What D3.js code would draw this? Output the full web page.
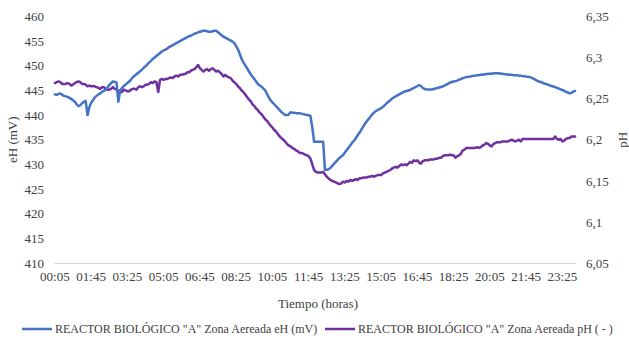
<!DOCTYPE html>
<html>
<head>
<meta charset="utf-8">
<script src="https://cdn.jsdelivr.net/npm/d3@7"></script>
<style>
  html, body { margin: 0; padding: 0; background: #fff; }
  svg { display: block; }
  text { font-family: "Liberation Serif", "Times New Roman", serif; fill: #404040; }
</style>
</head>
<body>
<svg id="chart" width="629" height="338"></svg>
<script>
// Sampling times: every 5 minutes, 00:05 through 24:00
const times = d3.range(1, 289).map(k => {
  const m = k * 5;
  return String(Math.floor(m / 60)).padStart(2, "0") + ":" + String(m % 60).padStart(2, "0");
});

// Oxidation-reduction potential, aerated zone (mV), one row per hour
const ehValues = [
  444.2, 444.1, 444.3, 444.4, 444.1, 443.9, 443.8, 443.7, 443.5, 443.3, 443.0, 442.7,
  442.2, 441.8, 442.0, 442.4, 442.7, 442.9, 440.0, 441.6, 442.5, 443.0, 443.6, 443.9,
  444.2, 444.4, 444.7, 444.9, 445.2, 445.6, 446.1, 446.5, 446.8, 446.7, 446.6, 442.7,
  445.0, 445.5, 445.9, 446.2, 446.5, 446.8, 447.2, 447.7, 448.0, 448.3, 448.6, 448.9,
  449.2, 449.6, 449.9, 450.3, 450.7, 451.0, 451.4, 451.7, 452.0, 452.3, 452.6, 452.9,
  453.1, 453.3, 453.5, 453.8, 454.0, 454.2, 454.4, 454.6, 454.8, 455.0, 455.2, 455.4,
  455.6, 455.8, 456.0, 456.1, 456.3, 456.5, 456.6, 456.8, 456.9, 457.0, 457.1, 457.1,
  457.0, 456.9, 456.9, 457.0, 457.1, 457.1, 456.8, 456.5, 456.2, 455.9, 455.7, 455.5,
  455.3, 455.1, 454.9, 454.6, 454.0, 453.3, 452.4, 451.4, 450.7, 450.1, 449.5, 448.9,
  448.3, 447.8, 447.3, 446.8, 446.3, 446.0, 445.8, 445.4, 445.0, 444.3, 443.6, 443.0,
  442.6, 442.2, 441.8, 441.4, 441.0, 440.6, 440.3, 440.0, 440.0, 440.1, 440.6, 440.5,
  440.5, 440.4, 440.4, 440.4, 440.3, 440.2, 440.1, 440.0, 440.0, 439.8, 437.5, 434.6,
  434.6, 434.6, 434.6, 434.6, 434.6, 428.9, 428.9, 429.0, 429.3, 429.7, 430.1, 430.5,
  430.9, 431.3, 431.6, 431.9, 432.4, 432.9, 433.4, 433.9, 434.4, 434.8, 435.3, 435.9,
  436.4, 437.0, 437.6, 438.2, 438.7, 439.2, 439.6, 440.1, 440.5, 440.8, 441.0, 441.2,
  441.4, 441.7, 442.0, 442.4, 442.7, 443.0, 443.3, 443.6, 443.8, 444.0, 444.2, 444.4,
  444.6, 444.8, 444.9, 445.0, 445.1, 445.3, 445.5, 445.7, 445.9, 446.1, 445.9, 445.5,
  445.3, 445.2, 445.2, 445.2, 445.2, 445.3, 445.4, 445.5, 445.6, 445.7, 445.8, 446.0,
  446.2, 446.4, 446.6, 446.7, 446.8, 446.9, 447.0, 447.2, 447.3, 447.5, 447.6, 447.7,
  447.8, 447.8, 447.9, 448.0, 448.0, 448.1, 448.1, 448.2, 448.2, 448.3, 448.3, 448.4,
  448.4, 448.4, 448.5, 448.5, 448.5, 448.5, 448.4, 448.4, 448.3, 448.3, 448.2, 448.2,
  448.2, 448.1, 448.1, 448.1, 448.0, 448.0, 447.9, 447.9, 447.8, 447.8, 447.7, 447.6,
  447.4, 447.2, 447.0, 446.8, 446.7, 446.6, 446.4, 446.3, 446.2, 446.0, 445.9, 445.8,
  445.7, 445.5, 445.4, 445.2, 445.1, 444.9, 444.7, 444.6, 444.4, 444.5, 444.8, 444.9
];

// pH, aerated zone, one row per hour
const phValues = [
  6.269, 6.270, 6.271, 6.270, 6.268, 6.268, 6.268, 6.269, 6.268, 6.266, 6.267, 6.269,
  6.270, 6.271, 6.270, 6.268, 6.268, 6.267, 6.265, 6.266, 6.265, 6.265, 6.265, 6.264,
  6.263, 6.262, 6.264, 6.264, 6.262, 6.261, 6.261, 6.262, 6.264, 6.262, 6.261, 6.259,
  6.260, 6.258, 6.261, 6.260, 6.259, 6.259, 6.261, 6.262, 6.262, 6.261, 6.264, 6.265,
  6.264, 6.265, 6.267, 6.267, 6.268, 6.270, 6.269, 6.271, 6.270, 6.258, 6.273, 6.274,
  6.273, 6.274, 6.274, 6.275, 6.276, 6.275, 6.277, 6.278, 6.277, 6.279, 6.279, 6.280,
  6.280, 6.282, 6.282, 6.284, 6.285, 6.286, 6.288, 6.291, 6.287, 6.285, 6.283, 6.285,
  6.286, 6.284, 6.286, 6.287, 6.285, 6.283, 6.284, 6.282, 6.280, 6.277, 6.279, 6.277,
  6.276, 6.275, 6.272, 6.270, 6.268, 6.265, 6.263, 6.260, 6.258, 6.255, 6.252, 6.249,
  6.247, 6.243, 6.241, 6.238, 6.236, 6.233, 6.231, 6.228, 6.225, 6.223, 6.220, 6.217,
  6.215, 6.212, 6.210, 6.207, 6.204, 6.202, 6.200, 6.198, 6.195, 6.193, 6.192, 6.190,
  6.189, 6.187, 6.186, 6.184, 6.184, 6.183, 6.182, 6.181, 6.180, 6.177, 6.170, 6.163,
  6.161, 6.160, 6.160, 6.160, 6.161, 6.158, 6.155, 6.153, 6.151, 6.150, 6.149, 6.148,
  6.147, 6.146, 6.147, 6.149, 6.148, 6.150, 6.149, 6.151, 6.150, 6.151, 6.152, 6.151,
  6.153, 6.153, 6.154, 6.154, 6.154, 6.155, 6.155, 6.156, 6.155, 6.156, 6.157, 6.157,
  6.157, 6.159, 6.160, 6.161, 6.162, 6.163, 6.165, 6.166, 6.167, 6.166, 6.168, 6.170,
  6.169, 6.170, 6.169, 6.171, 6.173, 6.172, 6.175, 6.174, 6.175, 6.172, 6.171, 6.174,
  6.175, 6.175, 6.175, 6.176, 6.176, 6.176, 6.177, 6.177, 6.178, 6.178, 6.180, 6.181,
  6.181, 6.181, 6.182, 6.181, 6.181, 6.178, 6.180, 6.181, 6.183, 6.187, 6.188, 6.190,
  6.190, 6.190, 6.190, 6.190, 6.190, 6.191, 6.190, 6.191, 6.193, 6.194, 6.196, 6.195,
  6.193, 6.192, 6.195, 6.196, 6.197, 6.197, 6.197, 6.198, 6.198, 6.198, 6.198, 6.199,
  6.200, 6.199, 6.198, 6.199, 6.200, 6.198, 6.201, 6.201, 6.201, 6.201, 6.201, 6.201,
  6.201, 6.201, 6.201, 6.201, 6.201, 6.201, 6.201, 6.201, 6.201, 6.201, 6.201, 6.201,
  6.204, 6.201, 6.200, 6.201, 6.198, 6.199, 6.201, 6.202, 6.202, 6.204, 6.204, 6.204
];

// Axis ticks
const ehTicks = [410, 415, 420, 425, 430, 435, 440, 445, 450, 455, 460];
const phTicks = [6.05, 6.1, 6.15, 6.2, 6.25, 6.3, 6.35];
const xLabelTimes = ["00:05", "01:45", "03:25", "05:05", "06:45", "08:25", "10:05",
  "11:45", "13:25", "15:05", "16:45", "18:25", "20:05", "21:45", "23:25"];

const seriesNames = [
  'REACTOR BIOLÓGICO "A" Zona Aereada eH (mV)',
  'REACTOR BIOLÓGICO "A" Zona Aereada pH ( - )'
];
const colors = ["#4472C4", "#7030A0"];

const svg = d3.select("#chart");
const plot = { left: 54, right: 576, top: 16.5, bottom: 263 };

const x = d3.scaleBand().domain(times).range([plot.left, plot.right]);
const yL = d3.scaleLinear().domain([410, 460]).range([plot.bottom, plot.top]);
const yR = d3.scaleLinear().domain([6.05, 6.35]).range([plot.bottom, plot.top]);
const cx = t => x(t) + x.bandwidth() / 2;

const fmtComma = v => String(+v.toFixed(2)).replace(".", ",");

// Horizontal category axis
const xAxis = svg.append("g")
  .attr("transform", `translate(0,${plot.bottom})`)
  .call(d3.axisBottom(x).tickValues(xLabelTimes).tickSize(0).tickPadding(9));
xAxis.select(".domain").attr("stroke", "#d9d9d9").attr("stroke-width", 1);
xAxis.selectAll("text").attr("font-size", 13).attr("fill", "#404040")
  .style("font-family", '"Liberation Serif", serif');

// Left axis (eH)
const yAxisL = svg.append("g")
  .attr("transform", `translate(${plot.left},0)`)
  .call(d3.axisLeft(yL).tickValues(ehTicks).tickSize(0).tickPadding(10));
yAxisL.select(".domain").remove();
yAxisL.selectAll("text").attr("font-size", 13).attr("fill", "#404040")
  .style("font-family", '"Liberation Serif", serif');

// Right axis (pH)
const yAxisR = svg.append("g")
  .attr("transform", `translate(${plot.right},0)`)
  .call(d3.axisRight(yR).tickValues(phTicks).tickSize(0).tickPadding(10).tickFormat(fmtComma));
yAxisR.select(".domain").remove();
yAxisR.selectAll("text").attr("font-size", 13).attr("fill", "#404040")
  .style("font-family", '"Liberation Serif", serif');

// Series lines
const lineL = d3.line().x((d, i) => cx(times[i])).y(d => yL(d));
const lineR = d3.line().x((d, i) => cx(times[i])).y(d => yR(d));

svg.append("path").datum(phValues)
  .attr("fill", "none").attr("stroke", colors[1]).attr("stroke-width", 2.5)
  .attr("stroke-linejoin", "round").attr("stroke-linecap", "round")
  .attr("d", lineR);

svg.append("path").datum(ehValues)
  .attr("fill", "none").attr("stroke", colors[0]).attr("stroke-width", 2.5)
  .attr("stroke-linejoin", "round").attr("stroke-linecap", "round")
  .attr("d", lineL);

// Axis titles
svg.append("text")
  .attr("transform", `translate(17,${(plot.top + plot.bottom) / 2}) rotate(-90)`)
  .attr("text-anchor", "middle").attr("font-size", 13)
  .text("eH (mV)");

svg.append("text")
  .attr("transform", `translate(627,${(plot.top + plot.bottom) / 2}) rotate(-90)`)
  .attr("text-anchor", "middle").attr("font-size", 13)
  .text("pH");

svg.append("text")
  .attr("x", 318).attr("y", 308)
  .attr("text-anchor", "middle").attr("font-size", 13)
  .text("Tiempo (horas)");

// Legend
const legend = svg.append("g").attr("transform", "translate(0,329)");
const legendX = [22, 325];
seriesNames.forEach((name, i) => {
  const g = legend.append("g").attr("transform", `translate(${legendX[i]},0)`);
  g.append("line").attr("x1", 0).attr("x2", 30).attr("y1", 0).attr("y2", 0)
    .attr("stroke", colors[i]).attr("stroke-width", 2.5);
  g.append("text").attr("x", 33).attr("y", 4).attr("font-size", 12).text(name);
});
</script>
</body>
</html>
